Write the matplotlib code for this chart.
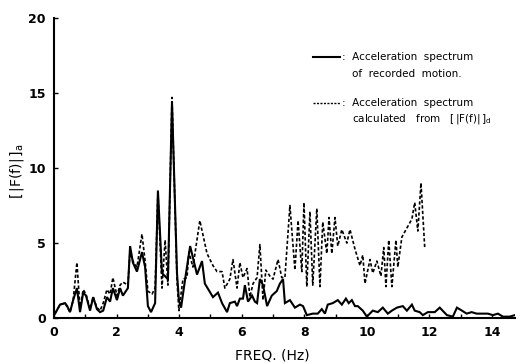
import matplotlib
matplotlib.use("Agg")
import matplotlib.pyplot as plt
from matplotlib.lines import Line2D

# Acceleration spectrum of the recorded motion
rec_freq = [0.03, 0.19, 0.35, 0.42, 0.51, 0.61, 0.73, 0.83, 0.93, 1.02, 1.15, 1.25, 1.37, 1.47,
            1.57, 1.69, 1.79, 1.88, 2.01, 2.11, 2.20, 2.36, 2.43, 2.52, 2.65, 2.81, 2.91, 3.00,
            3.10, 3.23, 3.32, 3.45, 3.64, 3.77, 3.93, 3.99, 4.06, 4.19, 4.35, 4.57, 4.73, 4.82,
            5.08, 5.24, 5.37, 5.53, 5.62, 5.78, 5.85, 5.94, 6.04, 6.10, 6.20, 6.33, 6.42, 6.49,
            6.58, 6.68, 6.81, 6.96, 7.12, 7.22, 7.32, 7.38, 7.54, 7.70, 7.86, 7.96, 8.08, 8.27,
            8.43, 8.56, 8.66, 8.75, 8.91, 9.07, 9.20, 9.33, 9.42, 9.52, 9.62, 9.71, 9.87, 10.00,
            10.19, 10.35, 10.51, 10.67, 10.80, 10.96, 11.15, 11.28, 11.44, 11.53, 11.69, 11.79,
            11.95, 12.17, 12.33, 12.56, 12.75, 12.88, 13.04, 13.19, 13.35, 13.51, 13.67, 13.87,
            14.03, 14.19, 14.35, 14.57, 14.73]
rec_amp = [0.3, 0.9, 1.0, 0.8, 0.4, 1.2, 2.0, 0.4, 1.7, 1.5, 0.5, 1.4, 0.6, 0.4,
           0.5, 1.4, 1.1, 2.0, 1.2, 2.0, 1.5, 2.0, 4.8, 3.7, 3.1, 4.4, 3.4, 0.8,
           0.4, 1.0, 8.5, 3.0, 2.6, 14.4, 3.0, 1.2, 0.7, 2.6, 4.8, 2.9, 3.8, 2.3,
           1.4, 1.7, 1.0, 0.4, 1.0, 1.1, 0.8, 1.3, 1.3, 2.2, 1.1, 1.5, 1.1, 1.0,
           2.6, 2.2, 0.8, 1.5, 1.8, 2.3, 2.6, 1.0, 1.2, 0.7, 0.9, 0.8, 0.2, 0.3,
           0.3, 0.6, 0.3, 0.9, 1.0, 1.2, 0.9, 1.3, 1.0, 1.2, 0.8, 0.8, 0.5, 0.1,
           0.5, 0.4, 0.7, 0.3, 0.5, 0.7, 0.8, 0.5, 0.9, 0.5, 0.4, 0.2,
           0.4, 0.4, 0.7, 0.2, 0.1, 0.7, 0.5, 0.3, 0.4, 0.3, 0.3, 0.3,
           0.2, 0.3, 0.1, 0.1, 0.2]

# Acceleration spectrum calculated from [|F(f)|]d
calc_freq = [0.03, 0.19, 0.35, 0.51, 0.61, 0.73, 0.83, 0.93, 1.02, 1.15, 1.25, 1.37, 1.47, 1.57,
             1.69, 1.79, 1.88, 2.01, 2.11, 2.20, 2.36, 2.43, 2.52, 2.65, 2.81, 2.91, 3.00, 3.13,
             3.23, 3.32, 3.45, 3.55, 3.64, 3.77, 3.93, 3.99, 4.12, 4.25, 4.31, 4.44, 4.66, 4.89,
             5.08, 5.21, 5.37, 5.46, 5.62, 5.72, 5.85, 5.94, 6.04, 6.17, 6.26, 6.36, 6.49, 6.58,
             6.68, 6.77, 6.90, 7.00, 7.16, 7.28, 7.38, 7.54, 7.70, 7.80, 7.92, 7.99, 8.08, 8.18,
             8.27, 8.40, 8.50, 8.59, 8.72, 8.79, 8.88, 8.98, 9.07, 9.20, 9.36, 9.46, 9.62, 9.78,
             9.87, 9.94, 10.10, 10.19, 10.32, 10.45, 10.54, 10.61, 10.70, 10.80, 10.93, 10.99,
             11.12, 11.28, 11.44, 11.53, 11.63, 11.73, 11.85]
calc_amp = [0.3, 0.9, 1.0, 0.4, 1.2, 3.7, 0.6, 1.9, 1.6, 0.6, 1.4, 0.7, 0.5, 1.0,
            1.9, 1.6, 2.7, 1.5, 2.2, 2.4, 2.2, 4.5, 3.8, 3.4, 5.6, 3.8, 1.8, 1.6,
            2.0, 8.4, 2.0, 5.2, 2.2, 14.7, 2.5, 0.5, 2.6, 2.7, 4.4, 3.4, 6.5, 4.3,
            3.5, 3.1, 3.1, 2.0, 2.6, 3.9, 2.0, 3.7, 2.7, 3.3, 1.4, 2.3, 2.7, 4.9,
            1.2, 3.2, 2.8, 2.6, 3.9, 2.7, 2.7, 7.5, 3.2, 6.5, 3.1, 7.7, 2.1, 7.1,
            2.2, 7.3, 2.1, 6.4, 4.3, 6.7, 4.3, 6.7, 4.8, 5.9, 5.0, 5.9, 4.6, 3.5,
            4.2, 2.3, 3.9, 3.0, 3.8, 2.8, 4.7, 2.1, 5.2, 2.1, 5.2, 3.4,
            5.4, 6.0, 6.6, 7.7, 5.8, 9.0, 4.7]

x_ticks = [0, 2, 4, 6, 8, 10, 12, 14]
x_tick_labels = ["0", "2", "4", "6", "8", "10", "12", "14"]
y_ticks = [0, 5, 10, 15, 20]
y_tick_labels = ["0", "5", "10", "15", "20"]

fig = plt.figure(figsize=(5.2, 3.64), dpi=100)
ax = fig.add_axes([0.104, 0.126, 0.886, 0.825])

ax.plot(rec_freq, rec_amp, color="black", lw=1.5, solid_joinstyle="miter")
ax.plot(calc_freq, calc_amp, color="black", lw=1.2, linestyle=(0, (2.0, 1.3)))

ax.set_xlim(0, 14.73)
ax.set_ylim(0, 20)
for side in ("top", "right"):
    ax.spines[side].set_visible(False)
for side in ("left", "bottom"):
    ax.spines[side].set_linewidth(1.5)

ax.set_xticks(x_ticks)
ax.set_xticklabels(x_tick_labels)
ax.set_xticks(range(0, 15), minor=True)
ax.set_yticks(y_ticks)
ax.set_yticklabels(y_tick_labels)
ax.tick_params(axis="both", which="both", direction="in", length=3, width=1.0,
               labelsize=9, pad=6)
for lbl in ax.get_xticklabels() + ax.get_yticklabels():
    lbl.set_fontweight("bold")

ax.set_xlabel("FREQ. (Hz)", fontsize=10, va="center")
ax.xaxis.set_label_coords(0.473, -0.123)
ax.set_ylabel(r"$\left[\,\mathrm{|F(f)|}\,\right]_\mathrm{a}$", fontsize=10)
ax.yaxis.set_label_coords(-0.06, 0.49)

# Legend drawn as text with short line samples
fs = 7.5
fig.add_artist(Line2D([313 / 520, 340 / 520], [1 - 57 / 364] * 2, color="black", lw=1.5))
fig.text(342 / 520, 1 - 57 / 364, ":  Acceleration  spectrum", fontsize=fs, va="center")
fig.text(352 / 520, 1 - 74 / 364, "of  recorded  motion.", fontsize=fs, va="center")
fig.add_artist(Line2D([313 / 520, 340 / 520], [1 - 103 / 364] * 2, color="black", lw=1.0,
                      linestyle=(0, (1.5, 1.0))))
fig.text(342 / 520, 1 - 103 / 364, ":  Acceleration  spectrum", fontsize=fs, va="center")
fig.text(352 / 520, 1 - 119 / 364,
         r"calculated   from   $\left[\,\mathrm{|F(f)|}\,\right]_\mathrm{d}$",
         fontsize=fs, va="center")

fig.savefig("out.png", dpi=100)
